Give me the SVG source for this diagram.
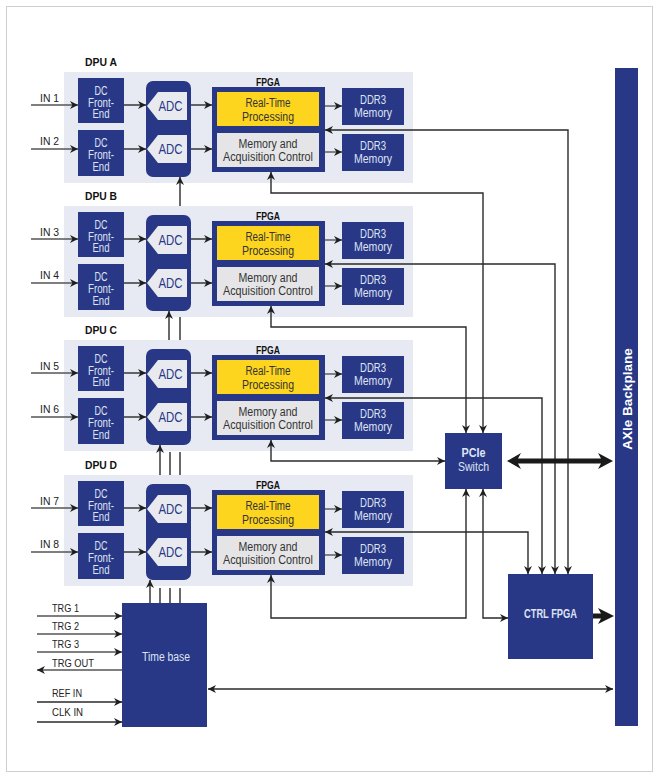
<svg xmlns="http://www.w3.org/2000/svg" width="659" height="777" viewBox="0 0 659 777">
<defs>
<style>
.frame{fill:#fff;stroke:#cfcfcf;stroke-width:1}
.panel{fill:#e7eaf2}
.navy{fill:#283886}
.yel{fill:#fdd41e}
.gry{fill:#e5e5e7}
.adcp{fill:#e9eaf0}
.t{font-family:"Liberation Sans Narrow","Liberation Sans",Arial,sans-serif}
.lbl{font-size:12px;fill:#dfe3f3;text-anchor:middle}
.adc{font-size:15px;fill:#283886;text-anchor:middle}
.in{font-size:11.5px;fill:#222}
.dk{font-size:12.5px;fill:#333;text-anchor:middle}
.b{font-weight:bold}
.hd{font-size:11.5px;fill:#111;font-weight:bold}
.c{fill:none;stroke:#2a2a2a;stroke-width:1.4}
.ce{fill:none;stroke:#2a2a2a;stroke-width:1.4;marker-end:url(#ah)}
.cb{fill:none;stroke:#2a2a2a;stroke-width:1.4;marker-end:url(#ah);marker-start:url(#ah)}
.g{stroke:#555}
.thick{fill:#1a1a1a}
</style>
<marker id="ah" viewBox="0 0 10 10" refX="10" refY="5" markerWidth="8" markerHeight="8" markerUnits="userSpaceOnUse" orient="auto-start-reverse">
<path d="M0,0 L10,5 L0,10 L3,5 z" fill="#1e1e1e"/>
</marker>
<g id="dpuShape">
<rect class="panel" x="64" y="72" width="349" height="111"/>
<rect class="navy" x="78" y="78" width="46" height="45"/>
<rect class="navy" x="78" y="130" width="46" height="46"/>
<text class="t lbl" x="101" y="94.5" textLength="13" lengthAdjust="spacingAndGlyphs">DC</text>
<text class="t lbl" x="101" y="106.5" textLength="26" lengthAdjust="spacingAndGlyphs">Front-</text>
<text class="t lbl" x="101" y="118" textLength="17" lengthAdjust="spacingAndGlyphs">End</text>
<text class="t lbl" x="101" y="147" textLength="13" lengthAdjust="spacingAndGlyphs">DC</text>
<text class="t lbl" x="101" y="159" textLength="26" lengthAdjust="spacingAndGlyphs">Front-</text>
<text class="t lbl" x="101" y="170.5" textLength="17" lengthAdjust="spacingAndGlyphs">End</text>
<rect class="navy" x="146" y="81" width="45" height="96" rx="7"/>
<polygon class="adcp" points="147,106 158,92 187,92 187,120 158,120"/>
<polygon class="adcp" points="147,149 158,135 187,135 187,163 158,163"/>
<text class="t adc" x="170.5" y="111" textLength="24" lengthAdjust="spacingAndGlyphs">ADC</text>
<text class="t adc" x="170.5" y="154" textLength="24" lengthAdjust="spacingAndGlyphs">ADC</text>
<text class="t hd" x="268" y="85.5" text-anchor="middle" textLength="24" lengthAdjust="spacingAndGlyphs">FPGA</text>
<rect class="navy" x="212" y="87" width="113" height="85"/>
<rect class="yel" x="217" y="92" width="102" height="34"/>
<rect class="gry" x="217" y="133" width="102" height="34"/>
<text class="t dk" x="268" y="107" textLength="45" lengthAdjust="spacingAndGlyphs">Real-Time</text>
<text class="t dk" x="268" y="120.5" textLength="52" lengthAdjust="spacingAndGlyphs">Processing</text>
<text class="t dk" x="268" y="147.5" textLength="59" lengthAdjust="spacingAndGlyphs">Memory and</text>
<text class="t dk" x="268" y="161" textLength="90" lengthAdjust="spacingAndGlyphs">Acquisition Control</text>
<rect class="navy" x="342" y="88" width="62" height="37"/>
<rect class="navy" x="342" y="134" width="62" height="37"/>
<text class="t lbl" x="373" y="104" textLength="26" lengthAdjust="spacingAndGlyphs">DDR3</text>
<text class="t lbl" x="373" y="117" textLength="38" lengthAdjust="spacingAndGlyphs">Memory</text>
<text class="t lbl" x="373" y="150" textLength="26" lengthAdjust="spacingAndGlyphs">DDR3</text>
<text class="t lbl" x="373" y="163" textLength="38" lengthAdjust="spacingAndGlyphs">Memory</text>
</g>
<g id="dpuArrows">
<line class="ce g" x1="31" y1="105" x2="78" y2="105"/>
<line class="ce g" x1="31" y1="149" x2="78" y2="149"/>
<line class="ce" x1="124" y1="105" x2="146" y2="105"/>
<line class="ce" x1="124" y1="149" x2="146" y2="149"/>
<line class="ce" x1="191" y1="105" x2="212" y2="105"/>
<line class="ce" x1="191" y1="149" x2="212" y2="149"/>
<line class="ce g" x1="325" y1="106" x2="342" y2="106"/>
<line class="ce g" x1="325" y1="152" x2="342" y2="152"/>
</g>
</defs>

<rect class="frame" x="6.5" y="6.5" width="646" height="765"/>

<g id="dpu-a">
<text class="t hd" x="85" y="66" textLength="32" lengthAdjust="spacingAndGlyphs">DPU A</text>
<use href="#dpuShape"/>
<text class="t in" x="40" y="101.5" textLength="19" lengthAdjust="spacingAndGlyphs">IN 1</text>
<text class="t in" x="40" y="145" textLength="19" lengthAdjust="spacingAndGlyphs">IN 2</text>
</g>
<g id="dpu-b" transform="translate(0,134)">
<text class="t hd" x="85" y="66" textLength="32" lengthAdjust="spacingAndGlyphs">DPU B</text>
<use href="#dpuShape"/>
<text class="t in" x="40" y="101.5" textLength="19" lengthAdjust="spacingAndGlyphs">IN 3</text>
<text class="t in" x="40" y="145" textLength="19" lengthAdjust="spacingAndGlyphs">IN 4</text>
</g>
<g id="dpu-c" transform="translate(0,268)">
<text class="t hd" x="85" y="66" textLength="32" lengthAdjust="spacingAndGlyphs">DPU C</text>
<use href="#dpuShape"/>
<text class="t in" x="40" y="101.5" textLength="19" lengthAdjust="spacingAndGlyphs">IN 5</text>
<text class="t in" x="40" y="145" textLength="19" lengthAdjust="spacingAndGlyphs">IN 6</text>
</g>
<g id="dpu-d" transform="translate(0,403)">
<text class="t hd" x="85" y="66" textLength="32" lengthAdjust="spacingAndGlyphs">DPU D</text>
<use href="#dpuShape"/>
<text class="t in" x="40" y="101.5" textLength="19" lengthAdjust="spacingAndGlyphs">IN 7</text>
<text class="t in" x="40" y="145" textLength="19" lengthAdjust="spacingAndGlyphs">IN 8</text>
</g>

<g id="time-base">
<rect class="navy" x="122" y="603" width="85" height="124"/>
<text class="t lbl" x="166" y="661" textLength="48" lengthAdjust="spacingAndGlyphs">Time base</text>
<text class="t in" x="52" y="612" textLength="27" lengthAdjust="spacingAndGlyphs">TRG 1</text>
<text class="t in" x="52" y="630" textLength="27" lengthAdjust="spacingAndGlyphs">TRG 2</text>
<text class="t in" x="52" y="648" textLength="27" lengthAdjust="spacingAndGlyphs">TRG 3</text>
<text class="t in" x="52" y="667" textLength="42" lengthAdjust="spacingAndGlyphs">TRG OUT</text>
<text class="t in" x="52" y="697" textLength="30" lengthAdjust="spacingAndGlyphs">REF IN</text>
<text class="t in" x="52" y="716" textLength="31" lengthAdjust="spacingAndGlyphs">CLK IN</text>
</g>

<g id="pcie-switch">
<rect class="navy" x="445" y="433" width="57" height="56"/>
<text class="t lbl b" x="473.5" y="457" textLength="24" lengthAdjust="spacingAndGlyphs">PCIe</text>
<text class="t lbl" x="473.5" y="471" textLength="31" lengthAdjust="spacingAndGlyphs">Switch</text>
</g>

<g id="ctrl-fpga">
<rect class="navy" x="508" y="574" width="85" height="85"/>
<text class="t lbl b" x="550.5" y="618" style="font-size:12.5px" textLength="53" lengthAdjust="spacingAndGlyphs">CTRL FPGA</text>
</g>

<g id="backplane">
<rect class="navy" x="615" y="68" width="23" height="658"/>
<text x="632" y="399" transform="rotate(-90 632 399)" text-anchor="middle" style="font-family:'Liberation Sans',Arial,sans-serif;font-weight:bold;font-size:13.5px;fill:#fff">AXIe Backplane</text>
</g>

<g id="connectors">
<use href="#dpuArrows"/>
<use href="#dpuArrows" transform="translate(0,134)"/>
<use href="#dpuArrows" transform="translate(0,268)"/>
<use href="#dpuArrows" transform="translate(0,403)"/>

<line class="ce" x1="180" y1="206" x2="180" y2="177"/>
<line class="ce" x1="169" y1="340" x2="169" y2="311"/>
<line class="c" x1="180" y1="340" x2="180" y2="317"/>
<line class="ce" x1="160" y1="475" x2="160" y2="445"/>
<line class="c" x1="170" y1="475" x2="170" y2="452"/>
<line class="c" x1="180" y1="475" x2="180" y2="452"/>
<line class="ce" x1="150" y1="603" x2="150" y2="580"/>
<line class="c" x1="160" y1="603" x2="160" y2="588"/>
<line class="c" x1="170" y1="603" x2="170" y2="588"/>
<line class="c" x1="180" y1="603" x2="180" y2="588"/>

<line class="ce g" x1="37" y1="616" x2="122" y2="616"/>
<line class="ce g" x1="37" y1="634" x2="122" y2="634"/>
<line class="ce g" x1="37" y1="652" x2="122" y2="652"/>
<line class="ce g" x1="122" y1="670" x2="37" y2="670"/>
<line class="ce" x1="37" y1="702" x2="122" y2="702"/>
<line class="ce" x1="37" y1="722" x2="122" y2="722"/>
<line class="cb" x1="208" y1="689" x2="613" y2="689"/>

<polyline class="cb" points="483,433 483,193 271,193 271,172"/>
<polyline class="cb" points="466,433 466,327 271,327 271,306"/>
<polyline class="cb" points="271,440 271,461 445,461"/>
<polyline class="cb" points="271,575 271,618 466,618 466,489"/>
<polyline class="cb" points="483,489 483,618 508,618"/>

<polyline class="cb" points="568,574 568,130 325,130"/>
<polyline class="cb" points="555,574 555,264 325,264"/>
<polyline class="cb" points="542,574 542,398 325,398"/>
<polyline class="cb" points="528,574 528,532 325,532"/>

<polygon class="thick" points="507,461 521,453 518,458.5 601,458.5 598,453 613,461 598,469 601,463.5 518,463.5 521,469"/>
<polygon class="thick" points="593,613.5 601,613.5 598,608 614,616 598,624 601,618.5 593,618.5"/>
</g>
</svg>
